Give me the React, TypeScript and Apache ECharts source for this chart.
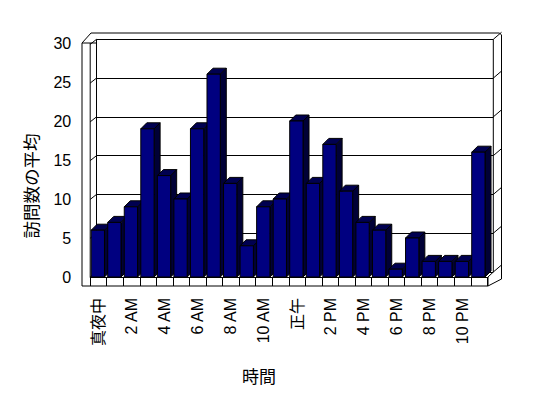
import React, { useEffect, useRef } from "react";
import * as echarts from "echarts";

// ---- data ----
const categories = [
  "真夜中", "1 AM", "2 AM", "3 AM", "4 AM", "5 AM", "6 AM", "7 AM", "8 AM", "9 AM", "10 AM", "11 AM",
  "正午", "1 PM", "2 PM", "3 PM", "4 PM", "5 PM", "6 PM", "7 PM", "8 PM", "9 PM", "10 PM", "11 PM",
];
const visits = [6, 7, 9, 19, 13, 10, 19, 26, 12, 4, 9, 10, 20, 12, 17, 11, 7, 6, 1, 5, 2, 2, 2, 16];
const yTicks = [0, 5, 10, 15, 20, 25, 30];
const Y_MIN = 0;
const Y_MAX = 30;
const Y_STEP = 5;
const xTitle = "時間";
const yTitle = "訪問数の平均";

// ---- layout / style ----
const W = 548;
const H = 398;
const FONT = 'Liberation Sans, "Noto Sans CJK JP", sans-serif';
const CJK = '"Noto Sans CJK JP", sans-serif';
const FRONT = { left: 90.2, right: 487.3, top: 43, bottom: 277 };
const BACK = { left: 96.5, right: 493.3, top: 39.3, bottom: 272 };
const FLOOR_BOTTOM = 286;
const OUTER_LEFT = 82;
const OUTER_TOP = 33;
const OUTER_RIGHT = 501.5;
const BAR_W = 13.3;
const BAR_OFF = 7.3;
const DX = 6;
const DY = -6;
const FRONT_COLOR = "#000080";
const TOP_COLOR = "#000050";
const SIDE_COLOR = "#000036";

export default function App() {
  const ref = useRef<HTMLDivElement>(null);
  useEffect(() => {
    if (!ref.current) return;
    const chart = echarts.init(ref.current, undefined, { renderer: "svg" });
    const line = (x1: number, y1: number, x2: number, y2: number) => ({
      type: "line",
      shape: { x1, y1, x2, y2 },
      style: { stroke: "#000", lineWidth: 1 },
      silent: true,
    });
    const option: any = {
      animation: false,
      backgroundColor: "#fff",
      grid: [
        { left: FRONT.left, width: FRONT.right - FRONT.left, top: FRONT.top, height: FRONT.bottom - FRONT.top },
        { left: BACK.left, width: BACK.right - BACK.left, top: BACK.top, height: BACK.bottom - BACK.top },
      ],
      xAxis: [
        {
          type: "category",
          gridIndex: 0,
          data: categories,
          axisLine: { show: true, lineStyle: { color: "#000", width: 1 } },
          axisTick: { show: true, interval: 0, length: FLOOR_BOTTOM - FRONT.bottom, lineStyle: { color: "#000" } },
          axisLabel: {
            interval: 1,
            rotate: 90,
            margin: 21,
            color: "#000",
            fontSize: 16,
            fontFamily: FONT,
          },
          splitLine: { show: false },
        },
        { type: "value", gridIndex: 1, min: 0, max: 1, show: false },
      ],
      yAxis: [
        {
          type: "value",
          gridIndex: 0,
          min: Y_MIN,
          max: Y_MAX,
          interval: Y_STEP,
          axisLine: { show: false },
          axisTick: { show: false },
          splitLine: { show: false },
          axisLabel: { color: "#000", fontSize: 16, fontFamily: FONT, margin: 19 },
        },
        {
          type: "value",
          gridIndex: 1,
          min: Y_MIN,
          max: Y_MAX,
          interval: Y_STEP,
          axisLine: { show: false },
          axisTick: { show: false },
          axisLabel: { show: false },
          splitLine: { show: true, lineStyle: { color: "#000", width: 1 } },
        },
      ],
      graphic: [
        {
          type: "polyline",
          shape: {
            points: [
              [OUTER_LEFT, FLOOR_BOTTOM],
              [OUTER_LEFT, FRONT.top],
              [91, OUTER_TOP],
              [499.5, OUTER_TOP],
              [OUTER_RIGHT, 35],
              [OUTER_RIGHT, 279],
              [FRONT.right + 0.7, FLOOR_BOTTOM],
              [OUTER_LEFT, FLOOR_BOTTOM],
            ],
          },
          style: { stroke: "#000", fill: "none", lineWidth: 1 },
          silent: true,
        },
        line(OUTER_LEFT, FRONT.top, BACK.left, FRONT.top),
        line(FRONT.left, FRONT.top, FRONT.left, FRONT.bottom),
        line(BACK.left, BACK.top, BACK.left, BACK.bottom),
        line(BACK.right, BACK.top, BACK.right, BACK.bottom),
        line(FRONT.right + 0.7, FRONT.bottom, FRONT.right + 0.7, FLOOR_BOTTOM),
        line(FRONT.right + 0.7, FRONT.bottom, BACK.right, BACK.bottom),
        {
          type: "text",
          x: 30,
          y: 186,
          rotation: Math.PI / 2,
          style: { text: yTitle, fontSize: 17.5, fontFamily: CJK, fill: "#000", align: "center", verticalAlign: "middle" },
        },
        {
          type: "text",
          x: 259,
          y: 375,
          style: { text: xTitle, fontSize: 17, fontFamily: CJK, fill: "#000", align: "center", verticalAlign: "middle" },
        },
      ],
      series: [
        {
          type: "custom",
          xAxisIndex: 1,
          yAxisIndex: 1,
          data: yTicks.map((v) => [0, v]),
          z: 1,
          silent: true,
          renderItem: (params: any, api: any) => {
            const v = api.value(1);
            const l = api.coord([0, v]);
            const r = api.coord([1, v]);
            return {
              type: "group",
              children: [
                { type: "line", shape: { x1: l[0], y1: l[1], x2: FRONT.left, y2: l[1] + 5 }, style: { stroke: "#000", lineWidth: 1 } },
                { type: "line", shape: { x1: r[0], y1: r[1], x2: OUTER_RIGHT, y2: r[1] - 7 }, style: { stroke: "#000", lineWidth: 1 } },
              ],
            };
          },
        },
        {
          type: "custom",
          xAxisIndex: 0,
          yAxisIndex: 0,
          data: visits.map((v, i) => [i, v]),
          z: 5,
          silent: true,
          renderItem: (params: any, api: any) => {
            const idx = api.value(0);
            const val = api.value(1);
            const top = api.coord([idx, val]);
            const base = api.coord([idx, 0]);
            const x0 = top[0] - BAR_OFF;
            const x1 = x0 + BAR_W;
            const yt = top[1];
            const y0 = base[1];
            const stroke = { stroke: "#000", lineWidth: 1 };
            return {
              type: "group",
              children: [
                {
                  type: "polygon",
                  shape: { points: [[x1, yt], [x1 + DX, yt + DY], [x1 + DX, y0 + DY], [x1, y0]] },
                  style: { fill: SIDE_COLOR, ...stroke },
                },
                {
                  type: "polygon",
                  shape: { points: [[x0, yt], [x0 + DX, yt + DY], [x1 + DX, yt + DY], [x1, yt]] },
                  style: { fill: TOP_COLOR, ...stroke },
                },
                {
                  type: "rect",
                  shape: { x: x0, y: yt, width: BAR_W, height: y0 - yt },
                  style: { fill: FRONT_COLOR, ...stroke },
                },
              ],
            };
          },
        },
      ],
    };
    chart.setOption(option);
    return () => chart.dispose();
  }, []);
  return <div ref={ref} style={{ position: "fixed", left: 0, top: 0, width: W, height: H }} />;
}
